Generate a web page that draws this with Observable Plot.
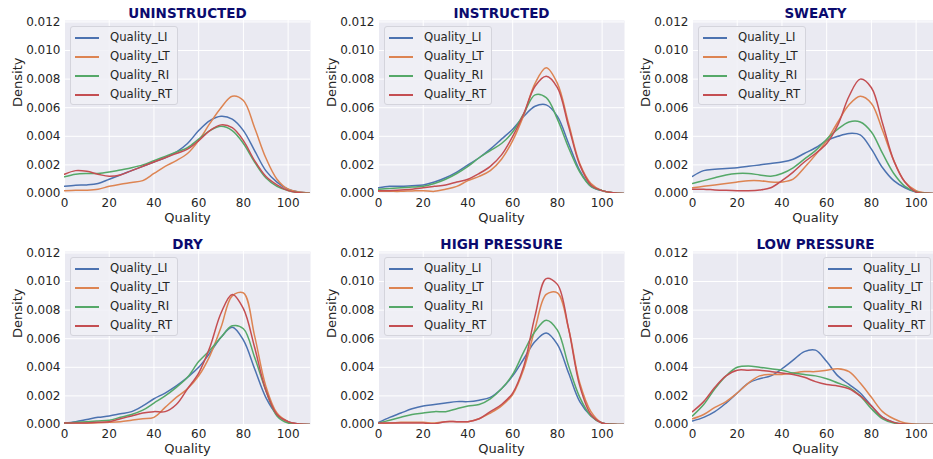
<!DOCTYPE html>
<html><head><meta charset="utf-8">
<script src="https://cdn.jsdelivr.net/npm/d3@7"></script>
<script src="https://cdn.jsdelivr.net/npm/@observablehq/plot@0.6"></script>
<style>
body{margin:0;background:#fff;font-family:"DejaVu Sans",sans-serif;}
#wrap{position:relative;width:933px;height:459px;overflow:hidden;background:#fff;}
.panel{position:absolute;width:314px;height:231px;}
.legend{position:absolute;width:108px;height:79px;background:rgba(240,240,246,0.85);border:1px solid #d4d4dc;border-radius:3px;box-sizing:border-box;}
.item{position:absolute;left:0;height:19px;width:106px;}
.item .ln{position:absolute;left:4px;width:24px;height:1.5px;top:9px;}
.item .tx{position:absolute;left:39px;top:1px;font-size:11.7px;color:#262626;line-height:17px;white-space:nowrap;}
</style>
</head><body>
<div id="wrap"></div>
<script>
const xs = [0,5,10,15,20,25,30,35,40,45,50,55,60,65,70,75,80,85,90,95,100,105,110];
const xTicks = [0,20,40,60,80,100];
const yTicks = [0,0.002,0.004,0.006,0.008,0.010,0.012];
const seriesNames = ["Quality_LI","Quality_LT","Quality_RI","Quality_RT"];
const seriesColors = ["#4c72b0","#dd8452","#55a868","#c44e52"];
const panelTitles = ["UNINSTRUCTED","INSTRUCTED","SWEATY","DRY","HIGH PRESSURE","LOW PRESSURE"];

// UNINSTRUCTED
const uninstructed_LI = [0.0005,0.00058,0.0006,0.0007,0.001,0.0013,0.0016,0.0019,0.0022,0.0025,0.0029,0.0035,0.0044,0.0051,0.0054,0.0052,0.0044,0.003,0.0016,0.0008,0.0003,0.0001,0.00002];
const uninstructed_LT = [0.0002,0.00022,0.00023,0.0003,0.0005,0.00065,0.00077,0.0009,0.0014,0.0019,0.0023,0.0028,0.0037,0.0049,0.006,0.0068,0.0065,0.0046,0.0025,0.001,0.0003,0.0001,0.00002];
const uninstructed_RI = [0.00117,0.00135,0.0014,0.0014,0.0015,0.00165,0.0018,0.002,0.0023,0.0026,0.0029,0.0032,0.0038,0.0044,0.0047,0.0044,0.0035,0.0022,0.0011,0.0005,0.0002,0.00005,0];
const uninstructed_RT = [0.00135,0.0016,0.00155,0.00135,0.0012,0.0013,0.0016,0.0019,0.0022,0.0025,0.0028,0.0031,0.0037,0.0044,0.0048,0.0046,0.0037,0.0023,0.0012,0.0006,0.0002,0.00005,0];
// INSTRUCTED
const instructed_LI = [0.0004,0.0005,0.0005,0.00055,0.0006,0.0008,0.0011,0.0015,0.002,0.0025,0.0031,0.0038,0.0045,0.0054,0.0061,0.0062,0.0054,0.0035,0.0016,0.0005,0.0002,0.00005,0];
const instructed_LT = [0.00015,0.00015,0.00015,0.00018,0.0002,0.00015,0.0003,0.0005,0.0009,0.0012,0.0016,0.0024,0.0037,0.0055,0.0077,0.0088,0.0077,0.0049,0.0021,0.0007,0.0002,0.00005,0];
const instructed_RI = [0.0003,0.00035,0.0004,0.00045,0.0005,0.0007,0.001,0.0014,0.0019,0.0025,0.003,0.0035,0.0043,0.0056,0.0069,0.0067,0.0052,0.0032,0.0015,0.0005,0.0002,0.00005,0];
const instructed_RT = [0.0002,0.0002,0.00025,0.0003,0.0004,0.0005,0.0006,0.0008,0.001,0.0014,0.0019,0.0027,0.004,0.0056,0.0075,0.0082,0.0074,0.0047,0.002,0.0006,0.0002,0.00005,0];
// SWEATY
const sweaty_LI = [0.0012,0.0016,0.0017,0.00175,0.0018,0.0019,0.002,0.0021,0.0022,0.0024,0.0028,0.0032,0.0037,0.004,0.0042,0.0041,0.0031,0.0018,0.0009,0.0004,0.0001,0.00002,0];
const sweaty_LT = [0.0004,0.0005,0.0006,0.0007,0.0008,0.0009,0.0009,0.0008,0.0008,0.001,0.0018,0.0027,0.0037,0.005,0.0062,0.0068,0.0063,0.0044,0.0023,0.0008,0.0002,0.00003,0];
const sweaty_RI = [0.0007,0.0009,0.0011,0.0013,0.0014,0.0014,0.0013,0.0012,0.0014,0.0018,0.0024,0.003,0.0038,0.0045,0.005,0.005,0.0043,0.0028,0.0014,0.0005,0.0001,0.00002,0];
const sweaty_RT = [0.0003,0.0003,0.00025,0.00022,0.0002,0.0002,0.00025,0.0004,0.0009,0.0015,0.0022,0.0028,0.0035,0.0048,0.0068,0.008,0.0074,0.0049,0.0023,0.0008,0.0001,0.00002,0];
// DRY
const dry_LI = [0.0001,0.0002,0.00035,0.0005,0.0006,0.00075,0.0009,0.0013,0.0018,0.0022,0.0027,0.0033,0.004,0.005,0.0061,0.0068,0.0059,0.0039,0.0019,0.0007,0.0002,0.00003,0];
const dry_LT = [0.0001,0.0001,0.0001,0.00012,0.00015,0.0002,0.0003,0.0004,0.0005,0.0012,0.0019,0.0025,0.0034,0.0048,0.0068,0.009,0.0092,0.0062,0.0027,0.0008,0.0002,0.00003,0];
const dry_RI = [0.0001,0.00015,0.0002,0.00025,0.0003,0.0005,0.0007,0.001,0.0015,0.002,0.0026,0.0033,0.0044,0.0052,0.0061,0.0069,0.0067,0.0047,0.0024,0.0006,0.0001,0.00002,0];
const dry_RT = [0.0001,0.0001,0.0001,0.00015,0.0002,0.0004,0.0006,0.0008,0.0009,0.0009,0.0014,0.0025,0.0036,0.0054,0.0078,0.0091,0.0081,0.0054,0.0024,0.0007,0.0002,0.00003,0];
// HIGH PRESSURE
const high_LI = [0.00015,0.0005,0.0008,0.0011,0.0013,0.0014,0.0015,0.0016,0.0016,0.0017,0.0019,0.0025,0.0034,0.0046,0.0058,0.0064,0.0056,0.0036,0.0016,0.0006,0.0001,0.00002,0];
const high_LT = [0.0001,0.0001,0.00015,0.00015,0.00015,0.0001,0.0002,0.0002,0.0002,0.0004,0.0008,0.0013,0.0021,0.0039,0.0067,0.0091,0.0092,0.0067,0.0029,0.0009,0.0001,0.00002,0];
const high_RI = [0.0001,0.0003,0.0005,0.0007,0.0008,0.0009,0.0009,0.0011,0.0013,0.0014,0.0018,0.0025,0.0035,0.0051,0.0065,0.0073,0.0066,0.0041,0.0019,0.0006,0.0001,0.00002,0];
const high_RT = [0.0001,0.0001,0.0001,0.0001,0.0001,0.00005,0.0002,0.0002,0.0002,0.0004,0.0009,0.0014,0.0022,0.0041,0.0076,0.0102,0.0098,0.0067,0.0027,0.0007,0.0001,0.00002,0];
// LOW PRESSURE
const low_LI = [0.00025,0.0005,0.0009,0.0015,0.0022,0.0029,0.0032,0.0034,0.0039,0.0045,0.0051,0.0052,0.0044,0.0034,0.0028,0.0022,0.0013,0.0005,0.00015,0.00003,0,0,0];
const low_LT = [0.0004,0.0007,0.0012,0.0016,0.0022,0.0029,0.0034,0.0035,0.0035,0.0036,0.0037,0.0037,0.0038,0.0039,0.0037,0.0029,0.0019,0.0009,0.0004,0.0001,0.00002,0,0];
const low_RI = [0.0006,0.0014,0.0025,0.0034,0.004,0.0041,0.004,0.0039,0.0038,0.0036,0.0035,0.0034,0.0032,0.0029,0.0026,0.002,0.0011,0.0004,0.0001,0.00002,0,0,0];
const low_RT = [0.0009,0.0016,0.0026,0.0034,0.0038,0.0038,0.0038,0.0037,0.0036,0.0035,0.0033,0.003,0.0028,0.0027,0.0025,0.002,0.0013,0.0005,0.00015,0.00003,0,0,0];

const panelSeries = [
  [uninstructed_LI, uninstructed_LT, uninstructed_RI, uninstructed_RT],
  [instructed_LI, instructed_LT, instructed_RI, instructed_RT],
  [sweaty_LI, sweaty_LT, sweaty_RI, sweaty_RT],
  [dry_LI, dry_LT, dry_RI, dry_RT],
  [high_LI, high_LT, high_RI, high_RT],
  [low_LI, low_LT, low_RI, low_RT]
];

const wrap = document.getElementById("wrap");
panelTitles.forEach((title, p) => {
  const row = Math.floor(p / 3), col = p % 3;
  const data = [];
  panelSeries[p].forEach((vals, s) => vals.forEach((v, i) => data.push({x: xs[i], y: v, series: seriesNames[s]})));
  const chart = Plot.plot({
    width: 314, height: 231,
    marginLeft: 64, marginRight: 4, marginTop: 20, marginBottom: 38,
    style: {fontFamily: "DejaVu Sans, sans-serif", fontSize: "12px", color: "#262626", background: "transparent"},
    x: {domain: [0, 110], ticks: xTicks, tickSize: 0, tickPadding: 5, label: null},
    y: {domain: [0, 0.0121], ticks: yTicks, tickSize: 0, tickPadding: 4, tickFormat: d3.format(".3f"), label: null},
    color: {domain: seriesNames, range: seriesColors},
    marks: [
      Plot.frame({fill: "#eaeaf2", stroke: null}),
      Plot.ruleX(xTicks, {stroke: "white", strokeWidth: 1}),
      Plot.ruleY(yTicks, {stroke: "white", strokeWidth: 1}),
      Plot.line(data, {x: "x", y: "y", z: "series", stroke: "series", strokeWidth: 1.5, curve: "catmull-rom", clip: true}),
      Plot.text([title], {frameAnchor: "top", lineAnchor: "middle", dy: -7, fontWeight: "bold", fill: "#0b0b6e", fontSize: 13.5}),
      Plot.text(["Quality"], {frameAnchor: "bottom", lineAnchor: "middle", dy: 24.5, fontSize: 13, fill: "#262626"}),
      Plot.text(["Density"], {frameAnchor: "left", lineAnchor: "middle", dx: -47, rotate: -90, fontSize: 13, fill: "#262626"})
    ]
  });
  const div = document.createElement("div");
  div.className = "panel";
  div.style.left = (col * 314) + "px";
  div.style.top = (row * 231) + "px";
  div.appendChild(chart);
  const lg = document.createElement("div");
  lg.className = "legend";
  lg.style.left = (p === 5 ? 195 : 70) + "px";
  lg.style.top = "26px";
  seriesNames.forEach((n, s) => {
    const it = document.createElement("div");
    it.className = "item";
    it.style.top = (1 + s * 19) + "px";
    it.innerHTML = `<div class="ln" style="background:${seriesColors[s]}"></div><div class="tx">${n}</div>`;
    lg.appendChild(it);
  });
  div.appendChild(lg);
  wrap.appendChild(div);
});
</script>
</body></html>
